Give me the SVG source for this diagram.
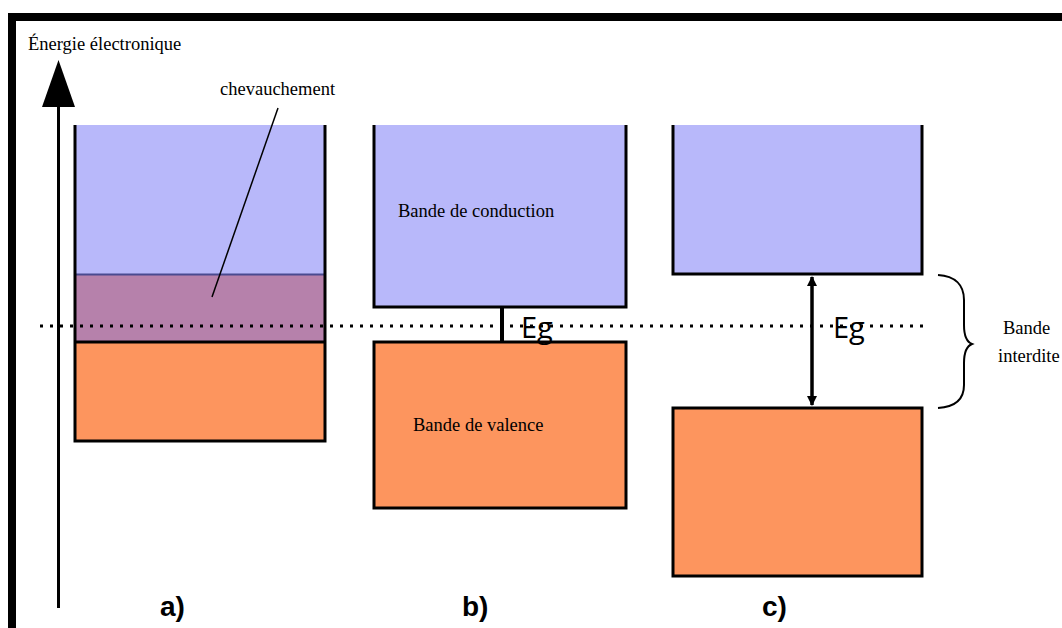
<svg xmlns="http://www.w3.org/2000/svg" width="1062" height="628" viewBox="0 0 1062 628">
<style>
.serif{font-family:"Liberation Serif","Times New Roman",serif;font-size:18.5px;fill:#000}
.eg{font-family:"Open Sans","Liberation Sans",sans-serif;font-size:29px;fill:#000}
.lab{font-family:"Liberation Sans",Arial,sans-serif;font-size:28px;font-weight:bold;fill:#000}
.blue{fill:#b8b8fa}
.orange{fill:#fd955e}
.purple{fill:#b681ab}
.edge{stroke:#000;stroke-width:3;fill:none}
</style>
<defs>
<marker id="ah" viewBox="0 0 10 10" refX="9" refY="5" markerWidth="3" markerHeight="3" orient="auto-start-reverse">
<path d="M0,0 L10,5 L0,10 z" fill="#000"/>
</marker>
</defs>
<rect width="1062" height="628" fill="#fff"/>
<g id="frame">
<rect x="8" y="13" width="1054" height="8" fill="#000"/>
<rect x="8" y="13" width="8" height="615" fill="#000"/>
</g>
<g id="axis">
<line x1="58.5" y1="100" x2="58.5" y2="608" stroke="#000" stroke-width="3"/>
<polygon points="42,107 75,107 58.5,60" fill="#000"/>
<text class="serif" x="28" y="50">Énergie électronique</text>
</g>
<g id="band-a">
<rect class="blue" x="75" y="125" width="250" height="149"/>
<rect class="purple" x="75" y="274" width="250" height="68"/>
<rect class="orange" x="75" y="342" width="250" height="99"/>
<line x1="75" y1="274.5" x2="325" y2="274.5" stroke="#4a4a90" stroke-width="2"/>
<line x1="75" y1="342" x2="325" y2="342" stroke="#000" stroke-width="3"/>
<path class="edge" d="M75,125 V441 H325 V125"/>
</g>
<g id="chevauchement">
<text class="serif" x="220" y="95">chevauchement</text>
<line x1="278" y1="108" x2="212" y2="297" stroke="#000" stroke-width="1.5"/>
</g>
<g id="band-b-conduction">
<rect class="blue" x="374" y="125" width="252" height="182"/>
<path class="edge" d="M374,125 V307 H626 V125"/>
<text class="serif" x="398" y="217">Bande de conduction</text>
</g>
<g id="band-b-valence">
<rect class="edge" x="374" y="342" width="252" height="166" style="fill:#fd955e"/>
<text class="serif" x="413" y="431">Bande de valence</text>
</g>
<g id="band-c-conduction">
<rect class="blue" x="673" y="125" width="249" height="149"/>
<path class="edge" d="M673,125 V274 H922 V125"/>
</g>
<g id="band-c-valence">
<rect class="edge" x="673" y="408" width="249" height="168" style="fill:#fd955e"/>
</g>
<g id="fermi">
<line x1="40" y1="326" x2="926" y2="326" stroke="#000" stroke-width="3" stroke-dasharray="3,7"/>
</g>
<g id="connectors">
<line x1="502" y1="307" x2="502" y2="342" stroke="#000" stroke-width="4"/>
<line x1="812" y1="277" x2="812" y2="405" stroke="#000" stroke-width="3.5" marker-start="url(#ah)" marker-end="url(#ah)"/>
</g>
<g id="eg-labels">
<text class="eg" x="521" y="338">Eg</text>
<text class="eg" x="833" y="338">Eg</text>
</g>
<g id="brace">
<path d="M938,275 C955,276 964,285 964,300 L964,325 C964,337 967,342 972,344 C967,346 964,351 964,363 L964,385 C964,400 955,407 938,408" fill="none" stroke="#000" stroke-width="2"/>
<text class="serif" x="1003" y="334">Bande</text>
<text class="serif" x="998" y="362">interdite</text>
</g>
<g id="labels">
<text class="lab" x="160" y="616">a)</text>
<text class="lab" x="462" y="616">b)</text>
<text class="lab" x="762" y="616">c)</text>
</g>
</svg>
